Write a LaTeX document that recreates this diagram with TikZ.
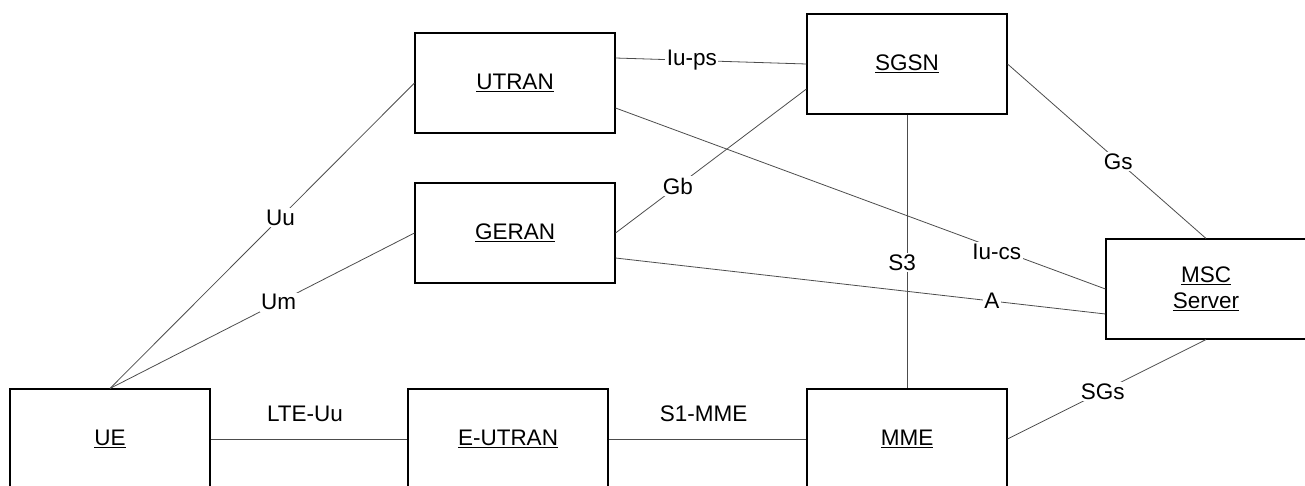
\documentclass[tikz,border=0pt]{standalone}
\usepackage{fontspec}
\setmainfont{Liberation Sans}
\begin{document}
\begin{tikzpicture}[x=1pt,y=-1pt,
  box/.style={draw=black,line width=1.1pt,minimum width=200pt,minimum height=100pt,inner sep=0pt,align=center,font=\fontsize{22.5}{26}\selectfont},
  link/.style={draw=black!70,line width=0.8pt},
  lbl/.style={fill=white,inner sep=1.5pt,font=\fontsize{22.5}{26}\selectfont},
  tlbl/.style={inner sep=0pt,font=\fontsize{22.5}{26}\selectfont}]
\useasboundingbox (0,0) rectangle (1305,485);
\clip (0,0) rectangle (1305,485);
\node[box] (UTRAN) at (515,83) {\underline{UTRAN}};
\node[box] (GERAN) at (515,233) {\underline{GERAN}};
\node[box] (SGSN) at (907,64) {\underline{SGSN}};
\node[box] (MSC) at (1206,289) {\underline{MSC}\\\underline{Server}};
\node[box] (UE) at (110,439) {\underline{UE}};
\node[box] (EUTRAN) at (508,439) {\underline{E-UTRAN}};
\node[box] (MME) at (907,439) {\underline{MME}};
\draw[link] (UE.north) -- node[lbl,pos=0.56] (Uu) {Uu} (UTRAN.west);
\draw[link] (UE.north) -- node[lbl,pos=0.554] (Um) {Um} (GERAN.west);
\draw[link] (UE.east) -- node[tlbl,pos=0.48,yshift=25pt] (LTEUu) {LTE-Uu} (EUTRAN.west);
\draw[link] (EUTRAN.east) -- node[tlbl,pos=0.48,yshift=25pt] (S1MME) {S1-MME} (MME.west);
\draw[link] ([yshift=25pt]UTRAN.east) -- node[lbl,pos=0.40] (Iups) {Iu-ps} (SGSN.west);
\draw[link] ([yshift=-25pt]UTRAN.east) -- node[lbl,pos=0.778,yshift=-3pt] (Iucs) {Iu-cs} (MSC.west);
\draw[link] (GERAN.east) -- node[lbl,pos=0.326] (Gb) {Gb} ([yshift=-25pt]SGSN.west);
\draw[link] ([yshift=-25pt]GERAN.east) -- node[lbl,pos=0.768] (A) {A} ([yshift=-25pt]MSC.west);
\draw[link] (SGSN.east) -- node[lbl,pos=0.558] (Gs) {Gs} (MSC.north);
\draw[link] (SGSN.south) -- node[lbl,pos=0.54,xshift=-5pt] (S3) {S3} (MME.north);
\draw[link] (MME.east) -- node[lbl,pos=0.48] (SGs) {SGs} (MSC.south);
\end{tikzpicture}
\end{document}
